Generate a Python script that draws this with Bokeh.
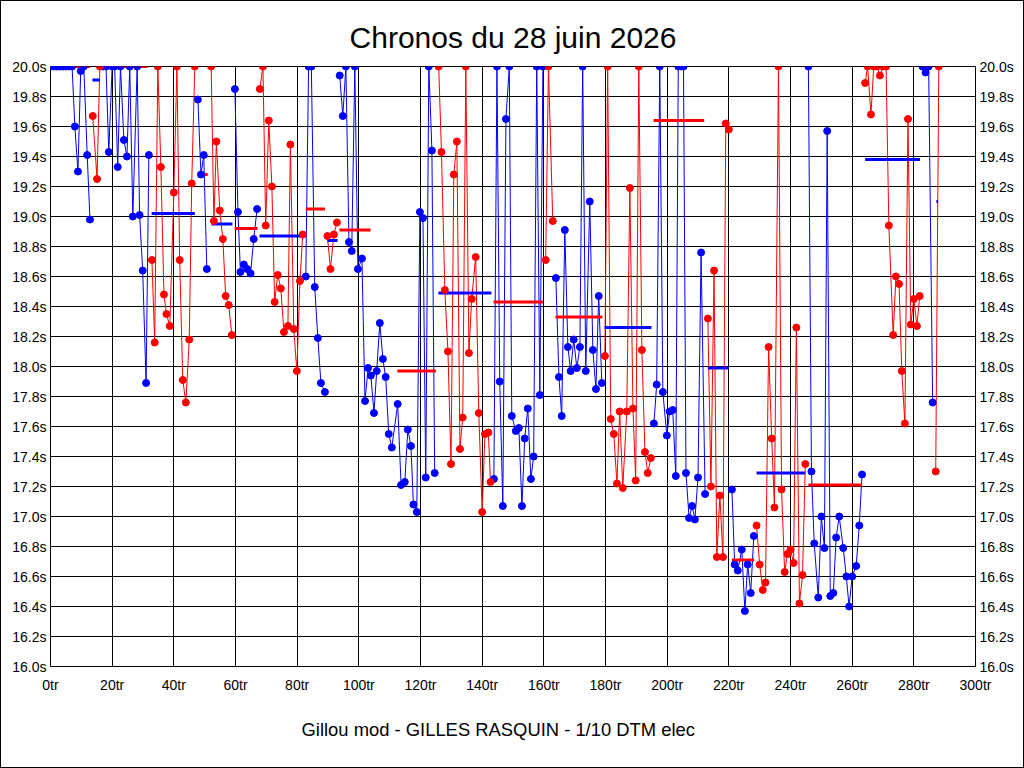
from bokeh.plotting import figure
from bokeh.models import Range1d, LinearAxis, FixedTicker, PrintfTickFormatter, Title
from bokeh.embed import file_html
from bokeh.resources import INLINE

# ---------------- data ----------------
x_ticks = [0, 20, 40, 60, 80, 100, 120, 140, 160, 180, 200, 220, 240, 260, 280, 300]
y_ticks = [16.0, 16.2, 16.4, 16.6, 16.8, 17.0, 17.2, 17.4, 17.6, 17.8, 18.0,
           18.2, 18.4, 18.6, 18.8, 19.0, 19.2, 19.4, 19.6, 19.8, 20.0]

blue_lap = [0, 1, 2, 3, 4, 5, 6, 7, 7.9, 8.9, 9.8, 10.8, 11.9, 12.8,
            17, 18, 18.9, 20, 20.8, 21.8, 22.7, 23.8, 24.8, 25.7, 26.7, 28.1, 28.9, 29.9, 31.0, 31.9,
            47.8, 48.8, 49.7, 50.7,
            59.8, 60.8, 61.6, 62.7, 63.8, 64.9, 65.9, 67.0,
            82.8, 83.7, 84.6, 85.7, 86.7, 87.7, 89.0,
            93.8, 94.8, 95.8, 96.8, 97.7, 98.7, 99.7, 101.0, 102.0, 103.0, 103.9, 104.9, 105.8, 106.8,
            107.8, 108.7, 109.7, 110.7, 112.6, 113.7, 114.9, 115.9, 116.9, 117.7, 118.8, 119.8, 120.8,
            121.7, 122.7, 123.7, 124.6,
            143.8, 144.8, 145.7, 146.7, 147.7, 148.8, 149.6, 150.9, 151.9, 152.9, 153.8, 154.8, 155.8,
            156.7, 157.7, 158.7, 159.7,
            163.9, 164.9, 165.8, 166.8, 167.8, 168.7, 169.7, 170.7, 171.7, 172.6, 173.6, 174.9, 175.9,
            176.9, 177.8, 178.8,
            195.7, 196.6, 197.6, 198.6, 199.9, 200.8, 201.8, 202.8, 203.6, 204.5, 205.3, 206.1, 207.1,
            208.1, 209.0, 210.0, 211.0, 212.3,
            221.0, 221.9, 222.9, 224.2, 225.2, 226.1, 227.1, 228.1,
            245.8, 246.8, 247.7, 249.0, 250.0, 251.0, 251.9, 252.9, 253.9, 254.8, 255.8, 257.1, 258.1,
            259.0, 260.0, 261.3, 262.3, 263.2,
            282.8, 283.8, 284.8, 286.1]
blue_time = [20, 20, 20, 20, 20, 20, 20, 20, 19.60, 19.30, 19.97, 20, 19.41, 18.98,
             20, 20, 19.43, 20, 20, 19.33, 20, 19.51, 19.40, 20, 19.00, 20, 19.01, 18.64, 17.89, 19.41,
             19.78, 19.28, 19.41, 18.65,
             19.85, 19.03, 18.63, 18.68, 18.65, 18.62, 18.85, 19.05,
             18.60, 20, 20, 18.53, 18.19, 17.89, 17.83,
             19.94, 19.67, 20, 18.83, 18.77, 20, 18.65, 18.72, 17.77, 17.99, 17.94, 17.69, 17.97, 18.29,
             18.05, 17.93, 17.55, 17.46, 17.75, 17.21, 17.23, 17.58, 17.47, 17.08, 17.03, 19.03, 18.99,
             17.26, 20, 19.44, 17.29,
             17.25, 20, 17.90, 17.07, 19.65, 20, 17.67, 17.57, 17.59, 17.07, 17.52, 17.72, 17.25,
             17.40, 20, 17.81, 20,
             18.59, 17.93, 17.67, 18.91, 18.13, 17.97, 18.18, 17.99, 18.13, 20, 17.97, 19.10, 18.11,
             17.85, 18.47, 17.89,
             17.62, 17.88, 20, 17.83, 17.54, 17.70, 17.71, 17.27, 20, 20, 20, 17.29, 16.99,
             17.07, 16.98, 17.26, 18.76, 17.15,
             17.18, 16.68, 16.64, 16.78, 16.37, 16.68, 16.49, 16.87,
             20, 17.30, 16.82, 16.46, 17.00, 16.79, 19.57, 16.47, 16.49, 16.86, 17.00, 16.79, 16.60,
             16.40, 16.60, 16.67, 16.94, 17.28,
             20, 19.96, 20, 17.76]
blue_run = [1] * 14 + [2] * 16 + [3] * 4 + [4] * 8 + [5] * 7 + [6] * 31 + [7] * 17 + [8] * 16 + \
           [9] * 18 + [10] * 8 + [11] * 18 + [12] * 4

red_lap = [13.7, 15.1, 16.0,
           32.9, 33.8, 34.8, 35.8, 36.8, 37.6, 38.7, 40.0, 41.0, 41.9, 42.9, 43.9, 45.0, 45.8, 46.8,
           52.1, 53.0, 53.8, 54.9, 55.9, 56.8, 57.8, 58.8,
           67.9, 68.9, 69.8, 70.8, 71.8, 72.7, 73.7, 74.7, 75.7, 77.0, 77.8, 78.9, 79.9, 80.9, 81.8,
           89.8, 90.8, 91.9, 92.9,
           125.9, 126.8, 127.9, 128.9, 129.9, 130.8, 131.8, 132.8, 133.7, 134.7, 135.7, 136.6, 137.9,
           138.9, 140.0, 140.9, 142.0, 142.7,
           160.6, 161.5, 162.9,
           179.8, 180.7, 181.7, 182.7, 183.7, 184.6, 185.6, 186.9, 187.9, 188.9, 189.8, 190.8, 191.8,
           192.8, 193.7, 194.7,
           213.2, 214.2, 215.2, 216.1, 217.1, 218.1, 219.0, 220.0,
           229.0, 230.0, 231.0, 231.9, 232.9, 233.9, 234.8, 236.1, 237.1, 238.1, 239.0, 240.0, 241.0,
           241.9, 242.9, 243.9, 244.8,
           264.2, 265.0, 266.1, 267.0, 268.0, 269.0, 270.0, 271.0, 271.9, 273.3, 274.2, 275.2, 276.1,
           277.1, 278.1, 279.0, 280.0, 281.0, 281.9,
           287.1, 288.1]
red_time = [19.67, 19.25, 20,
            18.71, 18.16, 20, 19.33, 18.48, 18.35, 18.27, 19.16, 20, 18.71, 17.91, 17.76, 18.18, 19.22, 20,
            20, 18.97, 19.50, 19.04, 18.85, 18.47, 18.41, 18.21,
            19.85, 20, 18.94, 19.64, 19.20, 18.43, 18.61, 18.52, 18.23, 18.27, 19.48, 18.25, 17.97, 18.57, 18.88,
            18.87, 18.65, 18.88, 18.96,
            20, 19.43, 18.51, 18.10, 17.35, 19.28, 19.50, 17.45, 17.66, 20, 18.09, 18.45, 18.73,
            17.69, 17.03, 17.55, 17.56, 17.23,
            18.71, 20, 18.97,
            18.07, 20, 17.65, 17.55, 17.22, 17.70, 17.19, 17.70, 19.19, 17.72, 17.24, 20, 18.11,
            17.43, 17.29, 17.39,
            18.32, 17.20, 18.64, 16.73, 17.14, 16.73, 19.62, 19.58,
            16.94, 16.68, 16.51, 16.56, 18.13, 17.52, 17.06, 20, 17.18, 16.63, 16.75, 16.78, 16.69,
            18.26, 16.42, 16.61, 17.35,
            19.89, 20, 19.68, 20, 20, 19.94, 20, 20, 18.94, 18.21, 18.60, 18.55, 17.97,
            17.62, 19.65, 18.28, 18.45, 18.27, 18.47,
            17.30, 20]
red_run = [1] * 3 + [2] * 15 + [3] * 8 + [4] * 15 + [5] * 4 + [6] * 18 + [7] * 3 + [8] * 16 + \
          [9] * 8 + [10] * 17 + [11] * 19 + [12] * 2

blue_avg_start = [13.6, 32.8, 52.2, 67.8, 89.8, 125.8, 179.7, 213.2, 229.0, 264.2, 287.3]
blue_avg_end = [16.0, 46.8, 59.0, 81.7, 93.1, 143.0, 194.9, 220.0, 244.8, 282.0, 287.8]
blue_avg_value = [19.91, 19.02, 18.95, 18.87, 18.84, 18.49, 18.26, 17.99, 17.29, 19.38, 19.10]

red_avg_start = [7.3, 17.5, 48.6, 59.7, 82.8, 93.7, 112.5, 143.7, 163.8, 195.6, 221.0, 245.8, 282.8]
red_avg_end = [12.8, 31.5, 51.0, 67.1, 89.0, 103.8, 125.0, 159.7, 179.0, 212.0, 228.2, 263.2, 286.0]
red_avg_value = [20.0, 20.0, 19.28, 18.92, 19.05, 18.91, 17.97, 18.43, 18.33, 19.64, 16.71, 17.21, 20.0]

title_text = "Chronos du 28 juin 2026"
footer_text = "Gillou mod - GILLES RASQUIN - 1/10 DTM elec"

BLUE = "#0000FF"
RED = "#FF0000"
FONT = "Liberation Sans"


def group_runs(laps, times, runs):
    xs, ys = [], []
    for r in sorted(set(runs)):
        xs.append([l for l, i in zip(laps, runs) if i == r])
        ys.append([t for t, i in zip(times, runs) if i == r])
    return xs, ys


p = figure(frame_width=925, frame_height=600,
           x_range=Range1d(0, 300), y_range=Range1d(16, 20),
           output_backend="svg", toolbar_location=None,
           min_border_left=50, min_border_right=49, min_border_top=66, min_border_bottom=102,
           background_fill_color="white", border_fill_color=None)

p.styles = {"background-color": "white", "box-shadow": "inset 0 0 0 1px black"}

p.title.text = title_text
p.title.align = "center"
p.title.text_font = FONT
p.title.text_font_size = "30px"
p.title.text_font_style = "normal"
p.title.text_color = "black"
p.title.standoff = 25

footer = Title(text=footer_text, align="left", text_font=FONT, text_font_size="18.4px",
               text_font_style="normal", text_color="black", standoff=42, offset=251)
p.add_layout(footer, "below")

xt = FixedTicker(ticks=x_ticks)
yt = FixedTicker(ticks=y_ticks)

p.xaxis.ticker = xt
p.yaxis.ticker = yt
p.xaxis.formatter = PrintfTickFormatter(format="%dtr")
p.yaxis.formatter = PrintfTickFormatter(format="%.1fs")

right_axis = LinearAxis(ticker=yt, formatter=PrintfTickFormatter(format="%.1fs"))
p.add_layout(right_axis, "right")

for ax in [p.xaxis[0], p.yaxis[0], right_axis]:
    ax.axis_line_color = None
    ax.major_tick_line_color = None
    ax.minor_tick_line_color = None
    ax.major_tick_out = 0
    ax.major_tick_in = 0
    ax.major_label_text_font = FONT
    ax.major_label_text_font_size = "14px"
    ax.major_label_text_color = "black"
    ax.major_label_standoff = 4
p.xaxis[0].major_label_standoff = 10

p.xgrid.ticker = xt
p.ygrid.ticker = yt
for g in [p.xgrid[0], p.ygrid[0]]:
    g.grid_line_color = "black"
    g.grid_line_alpha = 1.0
    g.grid_line_width = 1

p.outline_line_color = "black"
p.outline_line_width = 1

bxs, bys = group_runs(blue_lap, blue_time, blue_run)
rxs, rys = group_runs(red_lap, red_time, red_run)

p.multi_line(bxs, bys, line_color=BLUE, line_width=1)
p.multi_line(rxs, rys, line_color=RED, line_width=1)

p.segment(x0=blue_avg_start, y0=blue_avg_value, x1=blue_avg_end, y1=blue_avg_value,
          line_color=BLUE, line_width=3)
p.segment(x0=red_avg_start, y0=red_avg_value, x1=red_avg_end, y1=red_avg_value,
          line_color=RED, line_width=3)

p.scatter(blue_lap, blue_time, size=7, fill_color=BLUE, line_color=BLUE)
p.scatter(red_lap, red_time, size=7, fill_color=RED, line_color=RED)

open("out.html", "w").write(file_html(p, INLINE))
